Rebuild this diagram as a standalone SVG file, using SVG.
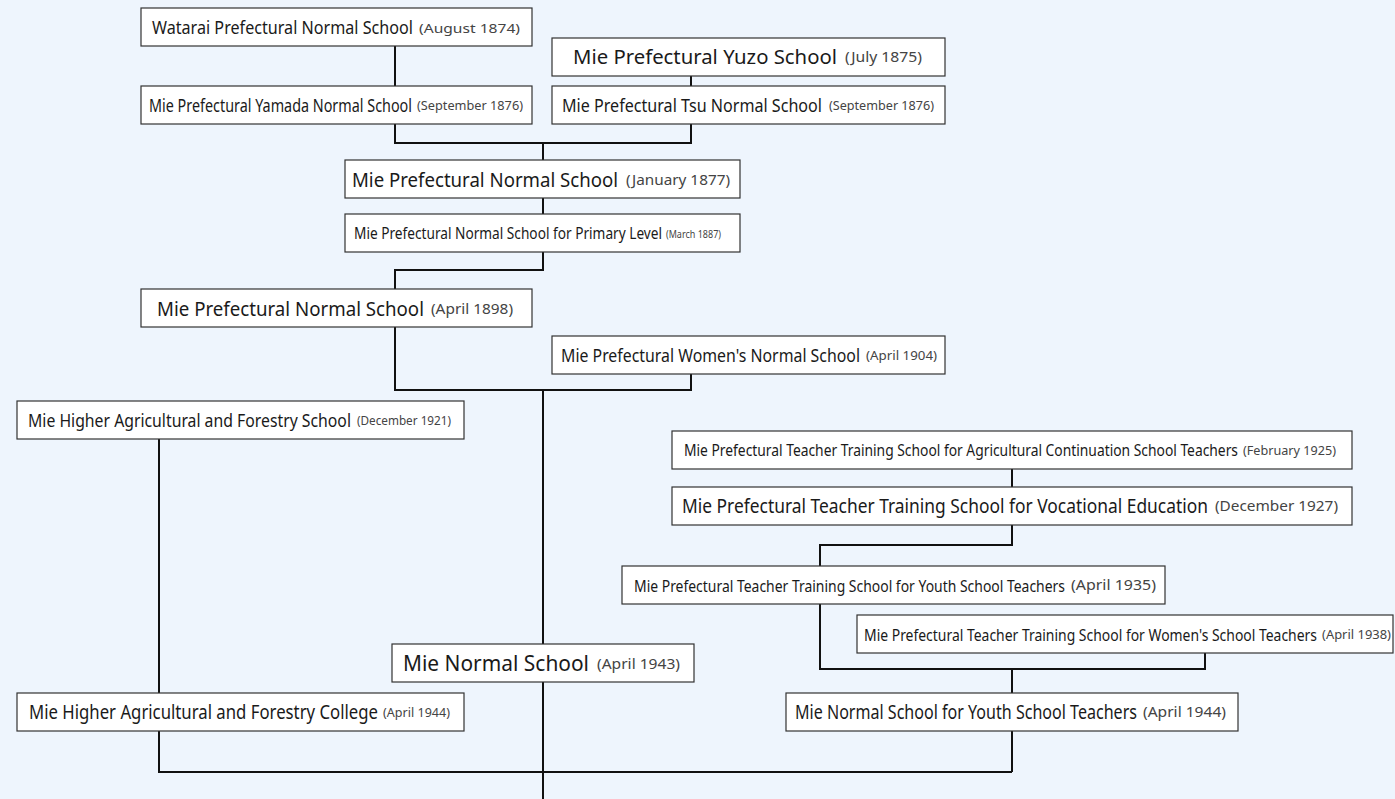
<svg xmlns="http://www.w3.org/2000/svg" width="1395" height="799" viewBox="0 0 1395 799">
<style>
.bg{fill:#eef5fd}
.box{fill:#ffffff;stroke:#333333;stroke-width:1.2}
.t{font-family:"Noto Sans","Open Sans","DejaVu Sans",sans-serif;fill:#1a1a1a}
.d{font-family:"Noto Sans","Open Sans","DejaVu Sans",sans-serif;fill:#444444}
.ln{fill:none;stroke:#111111;stroke-width:2}
</style>
<rect class="bg" x="0" y="0" width="1395" height="799"/>
<g id="connectors">
<path class="ln" d="M395 46V86"/>
<path class="ln" d="M691 76V86"/>
<path class="ln" d="M395 124V143H691V124"/>
<path class="ln" d="M543 143V160"/>
<path class="ln" d="M543 198V214"/>
<path class="ln" d="M543 252V270H395V289"/>
<path class="ln" d="M395 327V390H691V374"/>
<path class="ln" d="M543 390V799"/>
<path class="ln" d="M159 439V772H1012"/>
<path class="ln" d="M1012 469V487"/>
<path class="ln" d="M1012 525V545H820V566"/>
<path class="ln" d="M820 604V669H1205V653"/>
<path class="ln" d="M1012 669V772"/>
</g>
<g id="n1"><rect class="box" x="141" y="8" width="391" height="38"/>
<text class="t" x="152" y="33.5" font-size="18" textLength="261" lengthAdjust="spacingAndGlyphs">Watarai Prefectural Normal School</text>
<text class="d" x="419" y="32.5" font-size="13" textLength="101" lengthAdjust="spacingAndGlyphs">(August 1874)</text></g>
<g id="n2"><rect class="box" x="552" y="38" width="393" height="38"/>
<text class="t" x="573" y="64" font-size="20" textLength="264" lengthAdjust="spacingAndGlyphs">Mie Prefectural Yuzo School</text>
<text class="d" x="845" y="62" font-size="14" textLength="77" lengthAdjust="spacingAndGlyphs">(July 1875)</text></g>
<g id="n3"><rect class="box" x="141" y="86" width="391" height="38"/>
<text class="t" x="149" y="111.5" font-size="18" textLength="263" lengthAdjust="spacingAndGlyphs">Mie Prefectural Yamada Normal School</text>
<text class="d" x="417" y="110" font-size="12" textLength="106" lengthAdjust="spacingAndGlyphs">(September 1876)</text></g>
<g id="n4"><rect class="box" x="552" y="86" width="393" height="38"/>
<text class="t" x="562" y="111.5" font-size="18" textLength="260" lengthAdjust="spacingAndGlyphs">Mie Prefectural Tsu Normal School</text>
<text class="d" x="829" y="110" font-size="12" textLength="105" lengthAdjust="spacingAndGlyphs">(September 1876)</text></g>
<g id="n5"><rect class="box" x="345" y="160" width="395" height="38"/>
<text class="t" x="352" y="186.5" font-size="20" textLength="266" lengthAdjust="spacingAndGlyphs">Mie Prefectural Normal School</text>
<text class="d" x="626" y="184.5" font-size="14" textLength="104" lengthAdjust="spacingAndGlyphs">(January 1877)</text></g>
<g id="n6"><rect class="box" x="345" y="214" width="395" height="38"/>
<text class="t" x="354" y="239" font-size="17" textLength="308" lengthAdjust="spacingAndGlyphs">Mie Prefectural Normal School for Primary Level</text>
<text class="d" x="666" y="237.5" font-size="11" textLength="55" lengthAdjust="spacingAndGlyphs">(March 1887)</text></g>
<g id="n7"><rect class="box" x="141" y="289" width="391" height="38"/>
<text class="t" x="157" y="315.5" font-size="20" textLength="267" lengthAdjust="spacingAndGlyphs">Mie Prefectural Normal School</text>
<text class="d" x="431" y="313.5" font-size="14" textLength="82" lengthAdjust="spacingAndGlyphs">(April 1898)</text></g>
<g id="n8"><rect class="box" x="552" y="336" width="393" height="38"/>
<text class="t" x="561" y="361.5" font-size="18" textLength="299" lengthAdjust="spacingAndGlyphs">Mie Prefectural Women's Normal School</text>
<text class="d" x="866" y="360" font-size="13" textLength="71" lengthAdjust="spacingAndGlyphs">(April 1904)</text></g>
<g id="n9"><rect class="box" x="17" y="401" width="447" height="38"/>
<text class="t" x="28" y="426.5" font-size="18" textLength="323" lengthAdjust="spacingAndGlyphs">Mie Higher Agricultural and Forestry School</text>
<text class="d" x="357" y="425" font-size="12" textLength="94" lengthAdjust="spacingAndGlyphs">(December 1921)</text></g>
<g id="n10"><rect class="box" x="672" y="431" width="680" height="38"/>
<text class="t" x="684" y="456" font-size="16" textLength="554" lengthAdjust="spacingAndGlyphs">Mie Prefectural Teacher Training School for Agricultural Continuation School Teachers</text>
<text class="d" x="1243" y="455" font-size="12" textLength="93" lengthAdjust="spacingAndGlyphs">(February 1925)</text></g>
<g id="n11"><rect class="box" x="672" y="487" width="680" height="38"/>
<text class="t" x="682" y="513" font-size="19" textLength="526" lengthAdjust="spacingAndGlyphs">Mie Prefectural Teacher Training School for Vocational Education</text>
<text class="d" x="1215" y="511" font-size="14" textLength="123" lengthAdjust="spacingAndGlyphs">(December 1927)</text></g>
<g id="n12"><rect class="box" x="622" y="566" width="543" height="38"/>
<text class="t" x="634" y="591.5" font-size="17" textLength="431" lengthAdjust="spacingAndGlyphs">Mie Prefectural Teacher Training School for Youth School Teachers</text>
<text class="d" x="1071" y="590" font-size="14" textLength="85" lengthAdjust="spacingAndGlyphs">(April 1935)</text></g>
<g id="n13"><rect class="box" x="857" y="615" width="536" height="38"/>
<text class="t" x="864" y="640.5" font-size="17" textLength="453" lengthAdjust="spacingAndGlyphs">Mie Prefectural Teacher Training School for Women's School Teachers</text>
<text class="d" x="1322" y="639" font-size="12" textLength="69" lengthAdjust="spacingAndGlyphs">(April 1938)</text></g>
<g id="n14"><rect class="box" x="392" y="644" width="302" height="38"/>
<text class="t" x="403" y="671" font-size="21" textLength="186" lengthAdjust="spacingAndGlyphs">Mie Normal School</text>
<text class="d" x="597" y="668.5" font-size="15" textLength="83" lengthAdjust="spacingAndGlyphs">(April 1943)</text></g>
<g id="n15"><rect class="box" x="17" y="693" width="447" height="38"/>
<text class="t" x="29" y="719" font-size="19" textLength="349" lengthAdjust="spacingAndGlyphs">Mie Higher Agricultural and Forestry College</text>
<text class="d" x="383" y="717" font-size="13" textLength="67" lengthAdjust="spacingAndGlyphs">(April 1944)</text></g>
<g id="n16"><rect class="box" x="786" y="693" width="452" height="38"/>
<text class="t" x="795" y="719" font-size="19" textLength="342" lengthAdjust="spacingAndGlyphs">Mie Normal School for Youth School Teachers</text>
<text class="d" x="1143" y="717" font-size="14" textLength="83" lengthAdjust="spacingAndGlyphs">(April 1944)</text></g>
</svg>
